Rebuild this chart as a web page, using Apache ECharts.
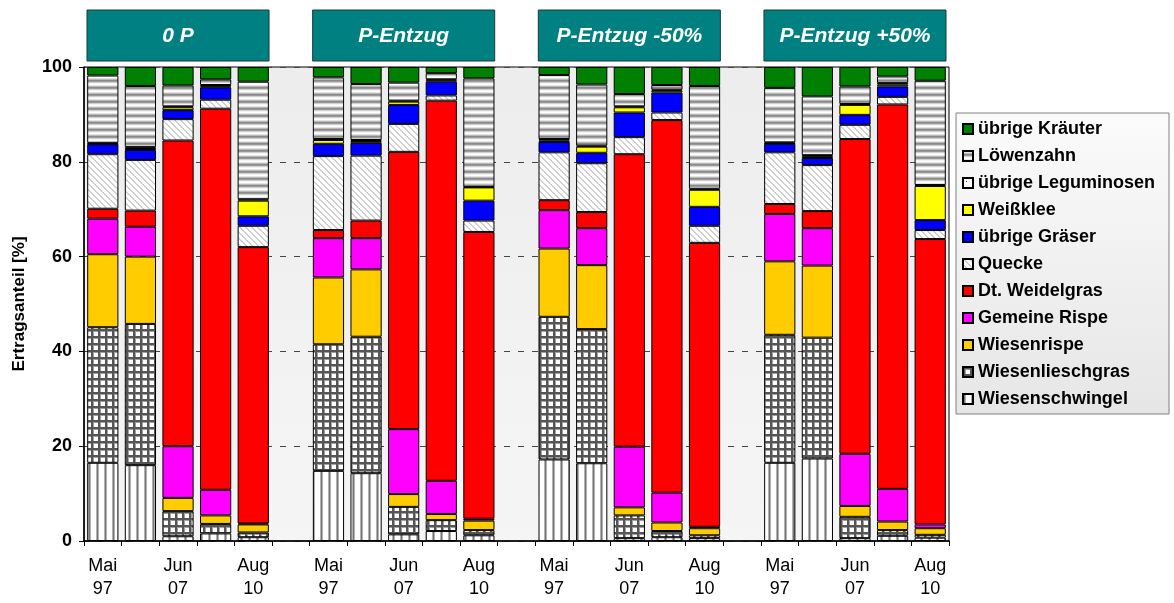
<!DOCTYPE html>
<html>
<head>
<meta charset="utf-8">
<script src="https://cdn.jsdelivr.net/npm/echarts@6/dist/echarts.min.js"></script>
<style>
html,body{margin:0;padding:0;background:#fff;}
#chart{width:1174px;height:603px;}
</style>
</head>
<body>
<div id="chart"></div>
<script>
// ---------------- DATA ----------------
const groupNames = ['0 P', 'P-Entzug', 'P-Entzug -50%', 'P-Entzug +50%'];
const barLabels = ['Mai\n97', '', 'Jun\n07', '', 'Aug\n10'];
const seriesNames = ['Wiesenschwingel', 'Wiesenlieschgras', 'Wiesenrispe', 'Gemeine Rispe',
  'Dt. Weidelgras', 'Quecke', 'übrige Gräser', 'Weißklee', 'übrige Leguminosen', 'Löwenzahn', 'übrige Kräuter'];

// 4 groups x 5 bars each
const wiesenschwingel   = [16.5,16.0,1.0,1.6,0.8,  14.8,14.3,1.4,2.1,1.2,  17.2,16.4,0.6,0.8,0.6,  16.5,17.4,0.6,1.1,0.7];
const wiesenlieschgras  = [28.6,29.8,5.3,2.0,1.0,  26.7,28.8,5.8,2.3,1.1,  30.1,28.3,4.8,1.3,0.6,  27.0,25.5,4.5,1.2,0.6];
const wiesenrispe       = [15.4,14.2,2.8,1.8,1.7,  14.1,14.2,2.7,1.3,2.0,  14.4,13.5,1.7,1.8,1.5,  15.5,15.2,2.3,1.8,1.4];
const gemeineRispe      = [7.5,6.3,10.9,5.4,0.2,   8.3,6.6,13.7,7.0,0.4,   8.1,7.8,12.8,6.3,0.3,   10.0,7.9,11.0,6.9,0.8];
const weidelgras        = [2.1,3.4,64.5,80.4,58.3, 1.7,3.7,58.5,80.2,60.5, 2.1,3.4,61.7,78.6,59.9, 2.1,3.6,66.4,81.1,60.2];
const quecke            = [11.5,10.7,4.5,1.9,4.5,  15.6,13.7,5.9,1.1,2.4,  10.1,10.3,3.6,1.6,3.6,  10.9,9.7,3.0,1.6,1.9];
const uebrigeGraeser    = [2.1,2.1,1.9,2.6,2.0,    2.6,2.7,4.0,2.9,4.2,    2.2,2.2,5.2,4.2,4.0,    1.8,1.5,2.1,2.2,2.1];
const weissklee         = [0.1,0.2,0.6,0.2,3.3,    0.8,0.4,0.7,0.3,2.8,    0.3,1.3,1.1,0.4,3.6,    0.1,0.4,2.1,0.4,7.2];
const uebrigeLegum      = [0.2,0.4,0.2,0.3,0.3,    0.2,0.2,0.2,0.2,0.1,    0.3,0.2,0.2,0.2,0.2,    0.2,0.2,0.2,0.3,0.2];
const loewenzahn        = [14.2,12.9,4.4,1.2,24.8, 13.0,11.8,3.8,1.3,22.9, 13.5,12.9,2.6,1.0,21.7, 11.5,12.4,3.7,1.4,22.0];
const uebrigeKraeuter   = [1.8,4.0,3.9,2.6,3.1,    2.2,3.6,3.3,1.3,2.4,    1.7,3.7,5.7,3.8,4.0,    4.4,6.2,4.1,2.0,2.9];

const seriesValues = [wiesenschwingel, wiesenlieschgras, wiesenrispe, gemeineRispe, weidelgras,
  quecke, uebrigeGraeser, weissklee, uebrigeLegum, loewenzahn, uebrigeKraeuter];

// ---------------- PATTERNS ----------------
function makeCanvas(w, h, draw) {
  const c = document.createElement('canvas');
  c.width = w; c.height = h;
  const ctx = c.getContext('2d');
  ctx.fillStyle = '#fff'; ctx.fillRect(0, 0, w, h);
  draw(ctx);
  return { image: c, repeat: 'repeat' };
}
const patVertical = makeCanvas(8, 8, ctx => {
  ctx.fillStyle = '#b0b0b0'; ctx.fillRect(0, 0, 1, 8); ctx.fillRect(2, 0, 1, 8);
  ctx.fillStyle = '#777'; ctx.fillRect(1, 0, 1, 8);
});
const patGrid = makeCanvas(7, 7, ctx => {
  ctx.fillStyle = '#a0a0a0'; ctx.fillRect(0, 2, 7, 1); ctx.fillRect(2, 0, 1, 7);
  ctx.fillStyle = '#555'; ctx.fillRect(0, 0, 7, 2); ctx.fillRect(0, 0, 2, 7);
});
const patDiag = makeCanvas(6, 6, ctx => {
  ctx.fillStyle = '#cfcfcf';
  for (let i = 0; i < 6; i++) { ctx.fillRect(i, i, 1, 1); ctx.fillRect((i + 1) % 6, i, 1, 1); }
});
const patHoriz = makeCanvas(8, 7, ctx => {
  const cols = ['#ffffff', '#e4e4e4', '#b8b8b8', '#8a8a8a', '#9a9a9a', '#cfcfcf', '#f4f4f4'];
  cols.forEach((c, i) => { ctx.fillStyle = c; ctx.fillRect(0, i, 8, 1); });
});
const patDot = makeCanvas(6, 6, ctx => {
  ctx.fillStyle = '#444'; ctx.fillRect(3, 3, 1, 1);
});

const seriesColors = [patVertical, patGrid, '#FFCC00', '#FF00FF', '#FF0000', patDiag,
  '#0000FF', '#FFFF00', patDot, patHoriz, '#008000'];

// ---------------- CATEGORIES ----------------
const categories = [];
const catLabel = {};
const catMap = []; // category index -> data index or -1
groupNames.forEach((g, gi) => {
  barLabels.forEach((b, bi) => {
    const id = 'c' + gi + '_' + bi;
    categories.push(id); catLabel[id] = b; catMap.push(gi * 5 + bi);
  });
  if (gi < groupNames.length - 1) {
    const id = 'gap' + gi; categories.push(id); catLabel[id] = ''; catMap.push(-1);
  }
});

const FONT = 'Liberation Sans, Arial, Helvetica, sans-serif';

const series = seriesNames.map((name, si) => ({
  name: name,
  type: 'bar',
  stack: 'total',
  barWidth: '83%',
  itemStyle: { color: seriesColors[si], borderColor: '#000', borderWidth: 1 },
  emphasis: { disabled: true },
  data: catMap.map(k => (k < 0 ? null : seriesValues[si][k]))
}));

const chart = echarts.init(document.getElementById('chart'), null, { renderer: 'canvas' });
chart.setOption({
  animation: false,
  backgroundColor: '#fff',
  grid: {
    left: 84, right: 225, top: 67, bottom: 62,
    show: true, borderColor: '#000', borderWidth: 1,
    backgroundColor: new echarts.graphic.LinearGradient(0, 0, 0, 1, [
      { offset: 0, color: '#ededed' }, { offset: 1, color: '#f5f5f5' }
    ])
  },
  legend: {
    orient: 'vertical',
    left: 956, top: 113,
    padding: [7, 14, 6, 6],
    backgroundColor: new echarts.graphic.LinearGradient(0, 0, 0, 1, [
      { offset: 0, color: '#fbfbfb' }, { offset: 1, color: '#e6e6e6' }
    ]),
    borderColor: '#808080', borderWidth: 1,
    itemWidth: 10, itemHeight: 10, itemGap: 9,
    icon: 'rect',
    data: seriesNames.slice().reverse(),
    textStyle: { fontFamily: FONT, fontWeight: 'bold', fontSize: 18, color: '#000', lineHeight: 18, padding: [0, 0, 0, 0] },
    selectedMode: false
  },
  xAxis: {
    type: 'category',
    data: categories,
    axisLine: { lineStyle: { color: '#000', width: 1.5 } },
    axisTick: { show: true, interval: 0, length: 5, lineStyle: { color: '#000' } },
    axisLabel: {
      interval: 0, margin: 14,
      formatter: v => catLabel[v],
      fontFamily: FONT, fontSize: 18, color: '#000', lineHeight: 23
    },
    splitLine: { show: false }
  },
  yAxis: {
    type: 'value', min: 0, max: 100, interval: 20,
    name: 'Ertragsanteil [%]', nameLocation: 'middle', nameGap: 56,
    nameTextStyle: { fontFamily: FONT, fontWeight: 'bold', fontSize: 17, color: '#000' },
    axisLine: { show: true, lineStyle: { color: '#000', width: 1.5 } },
    axisTick: { show: true, length: 5, lineStyle: { color: '#000' } },
    axisLabel: { fontFamily: FONT, fontWeight: 'bold', fontSize: 18, color: '#000', margin: 12 },
    splitLine: { show: true, lineStyle: { color: '#444', type: [6, 8], width: 1 } }
  },
  series: series
});

// header boxes computed from the category axis
const c0 = chart.convertToPixel({ xAxisIndex: 0 }, 0);
const c1 = chart.convertToPixel({ xAxisIndex: 0 }, 1);
const step = c1 - c0;
const graphics = [];
groupNames.forEach((g, gi) => {
  const center = chart.convertToPixel({ xAxisIndex: 0 }, gi * 6 + 2);
  const half = 2.5 * step - 3;
  graphics.push({
    type: 'rect',
    shape: { x: center - half, y: 10, width: 2 * half, height: 51 },
    style: { fill: '#008080', stroke: '#1a3a3a', lineWidth: 1 },
    silent: true
  });
  graphics.push({
    type: 'text',
    x: center, y: 36,
    style: {
      text: g, fill: '#fff', fontFamily: FONT, fontWeight: 'bold', fontStyle: 'italic',
      fontSize: 21, align: 'center', verticalAlign: 'middle'
    },
    silent: true
  });
});
chart.setOption({ graphic: graphics });
</script>
</body>
</html>
